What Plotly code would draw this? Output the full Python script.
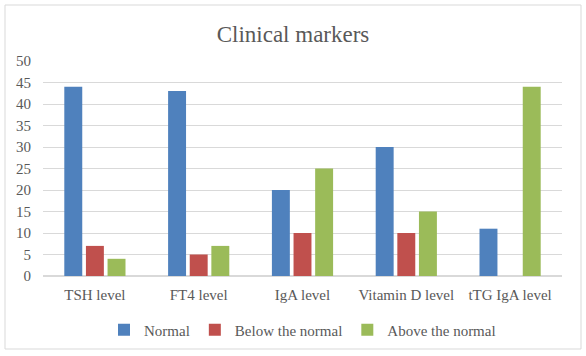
import plotly.graph_objects as go

categories = ["TSH level", "FT4 level", "IgA level", "Vitamin D level", "tTG IgA level"]
normal = [44, 43, 20, 30, 11]
below = [7, 5, 10, 10, None]
above = [4, 7, 25, 15, 44]
series_names = ["Normal", "Below the normal", "Above the normal"]
colors = ["#4F81BD", "#C0504D", "#9BBB59"]

W, H = 586, 356
L, R, T, B = 43, 24, 61, 80
pw, ph = W - L - R, H - T - B

def px_x(p):
    return (p - L) / pw

def px_y(p):
    return (H - B - p) / ph

font_family = "Liberation Serif, DejaVu Serif, serif"

fig = go.Figure()
for name, vals, c in zip(series_names, [normal, below, above], colors):
    fig.add_trace(go.Bar(x=categories, y=vals, name=name, marker_color=c,
                         marker_line_width=0))

fig.update_layout(
    width=W, height=H,
    margin=dict(l=L, r=R, t=T, b=B, autoexpand=False),
    paper_bgcolor="white", plot_bgcolor="white",
    barmode="group", bargap=0.375, bargroupgap=0.17,
    font=dict(family=font_family, color="#595959", size=15),
    title=dict(text="Clinical markers", x=0.5, xanchor="center",
               y=1 - 34 / H, yanchor="middle",
               font=dict(family=font_family, size=23, color="#595959")),
    xaxis=dict(showgrid=False, showline=False, ticks="", tickfont=dict(size=15),
               ticklabelstandoff=8),
    yaxis=dict(range=[0, 50], dtick=5, showgrid=True, gridcolor="#D9D9D9",
               gridwidth=1, zeroline=True, zerolinecolor="#D9D9D9",
               showline=False, ticks="", tickfont=dict(size=15),
               ticklabelstandoff=11),
    legend=dict(orientation="h", x=0.5, xanchor="center", y=px_y(330),
                yanchor="middle", font=dict(size=15), itemwidth=30,
                traceorder="normal"),
    showlegend=True,
)

fig.add_shape(type="rect", xref="paper", yref="paper",
              x0=px_x(5), x1=px_x(581), y0=px_y(349), y1=px_y(5),
              line=dict(color="#D9D9D9", width=1), fillcolor="rgba(0,0,0,0)",
              layer="below")

fig.write_html("out.html", config={"displayModeBar": False},
               post_script="document.body.style.margin='0';document.body.style.padding='0';")
